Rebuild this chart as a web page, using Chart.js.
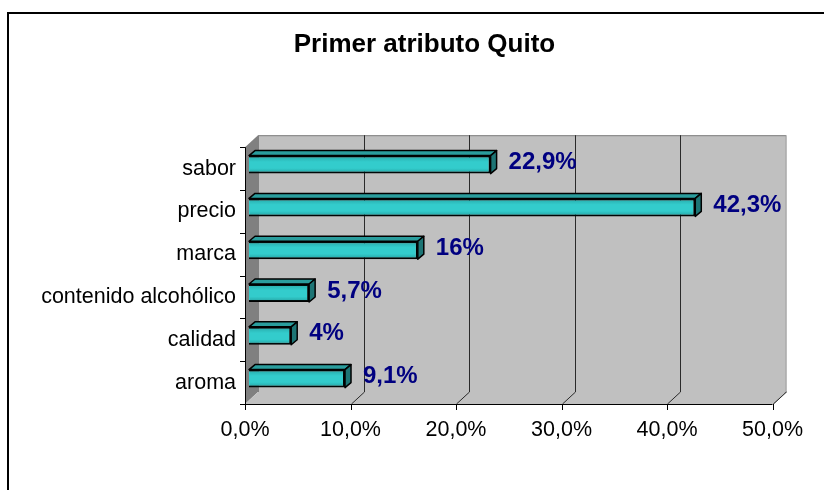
<!DOCTYPE html>
<html>
<head>
<meta charset="utf-8">
<script src="https://cdn.jsdelivr.net/npm/chart.js@4.4.0/dist/chart.umd.min.js"></script>
<style>
    html, body { margin: 0; padding: 0; background: #fff; }
    #wrap { position: relative; width: 824px; height: 490px; overflow: hidden; }
    #frame { position: absolute; left: 7px; top: 12px; width: 900px; height: 600px; border: 2px solid #000; }
    canvas { position: absolute; left: 0; top: 0; }
</style>
</head>
<body>
<div id="wrap">
    <div id="frame"></div>
    <canvas id="chart" width="824" height="490"></canvas>
</div>
<script>
// Primer atributo Quito - 3D style horizontal bars

const categories = ['sabor', 'precio', 'marca', 'contenido alcohólico', 'calidad', 'aroma'];
const values = [22.9, 42.3, 16, 5.7, 4, 9.1];
const valueLabels = ['22,9%', '42,3%', '16%', '5,7%', '4%', '9,1%'];
const xTicks = [0, 10, 20, 30, 40, 50];

const FONT = "'Liberation Sans', Arial, sans-serif";

// depth offsets relative to the plane the bars are drawn in
const FRONT = { dx: -4, dy: 4 };
const BACK = { dx: 9, dy: -8 };
const BAR_DEPTH = { dx: 6, dy: -5 };
const TITLE_SHIFT = 34;

const box3d = {
    id: 'box3d',
    afterLayout(chart) {
        // title sits a bit right of the plot centre
        chart.titleBlock.left += TITLE_SHIFT;
        chart.titleBlock.right += TITLE_SHIFT;
    },
    beforeDatasetsDraw(chart) {
        const ctx = chart.ctx;
        const xs = chart.scales.x;
        const area = chart.chartArea;
        const fx = v => xs.getPixelForValue(v) + FRONT.dx;
        const bx = v => xs.getPixelForValue(v) + BACK.dx;
        const fTop = area.top + FRONT.dy, fBot = area.bottom + FRONT.dy;
        const bTop = area.top + BACK.dy, bBot = area.bottom + BACK.dy;
        const x0f = fx(0), x1f = fx(50), x0b = bx(0), x1b = bx(50);

        ctx.save();
        // back wall
        ctx.fillStyle = '#c0c0c0';
        ctx.fillRect(x0b, bTop, x1b - x0b, bBot - bTop);
        ctx.strokeStyle = '#808080';
        ctx.lineWidth = 1;
        ctx.strokeRect(x0b + 0.5, bTop + 0.5, x1b - x0b, bBot - bTop);

        // left wall
        ctx.fillStyle = '#808080';
        ctx.beginPath();
        ctx.moveTo(x0f, fTop);
        ctx.lineTo(x0b, bTop);
        ctx.lineTo(x0b, bBot);
        ctx.lineTo(x0f, fBot);
        ctx.closePath();
        ctx.fill();

        // floor
        ctx.fillStyle = '#c0c0c0';
        ctx.beginPath();
        ctx.moveTo(x0f, fBot);
        ctx.lineTo(x0b, bBot);
        ctx.lineTo(x1b, bBot);
        ctx.lineTo(x1f, fBot);
        ctx.closePath();
        ctx.fill();
        ctx.strokeStyle = '#808080';
        ctx.beginPath();
        ctx.moveTo(x1b + 0.5, bBot);
        ctx.lineTo(x1f + 0.5, fBot);
        ctx.stroke();

        // grid lines on the back wall and floor
        ctx.strokeStyle = '#2a2a2a';
        xTicks.forEach(v => {
            if (v === 0) return;
            const xb = Math.round(bx(v)) + 0.5;
            if (v < 50) {
                ctx.beginPath();
                ctx.moveTo(xb, bTop);
                ctx.lineTo(xb, bBot);
                ctx.stroke();
            }
            ctx.beginPath();
            ctx.moveTo(xb, bBot);
            ctx.lineTo(Math.round(fx(v)) + 0.5, fBot);
            ctx.stroke();
        });

        // axes
        ctx.strokeStyle = '#000';
        ctx.beginPath();
        ctx.moveTo(Math.round(x0f) + 0.5, fTop);
        ctx.lineTo(Math.round(x0f) + 0.5, fBot + 0.5);
        ctx.lineTo(x1f, fBot + 0.5);
        ctx.stroke();

        // tick marks
        xTicks.forEach(v => {
            const x = Math.round(fx(v)) + 0.5;
            ctx.beginPath();
            ctx.moveTo(x, fBot);
            ctx.lineTo(x, fBot + 6);
            ctx.stroke();
        });
        const slot = (area.bottom - area.top) / categories.length;
        for (let i = 0; i <= categories.length; i++) {
            const y = Math.round(fTop + i * slot) + 0.5;
            ctx.beginPath();
            ctx.moveTo(x0f - 5, y);
            ctx.lineTo(x0f, y);
            ctx.stroke();
        }
        ctx.restore();
    },
    afterDatasetsDraw(chart) {
        const ctx = chart.ctx;
        const meta = chart.getDatasetMeta(0);
        ctx.save();
        meta.data.forEach((bar, i) => {
            const { x, y, base, height } = bar.getProps(['x', 'y', 'base', 'height'], true);
            const top = y - height / 2, bot = y + height / 2;
            const d = BAR_DEPTH;

            // shading on the front face
            const g = ctx.createLinearGradient(0, top, 0, bot);
            g.addColorStop(0, 'rgba(0,60,60,0.25)');
            g.addColorStop(0.35, 'rgba(0,60,60,0)');
            g.addColorStop(0.7, 'rgba(0,60,60,0)');
            g.addColorStop(1, 'rgba(0,60,60,0.3)');
            ctx.fillStyle = g;
            ctx.fillRect(base + 1, top + 1, x - base - 2, height - 2);

            ctx.lineWidth = 1.5;
            ctx.strokeStyle = '#000';
            ctx.lineJoin = 'round';
            // top face
            ctx.fillStyle = '#2a9d9d';
            ctx.beginPath();
            ctx.moveTo(base, top);
            ctx.lineTo(base + d.dx, top + d.dy);
            ctx.lineTo(x + d.dx, top + d.dy);
            ctx.lineTo(x, top);
            ctx.closePath();
            ctx.fill();
            ctx.stroke();
            // side face
            ctx.fillStyle = '#1d7575';
            ctx.beginPath();
            ctx.moveTo(x, top);
            ctx.lineTo(x + d.dx, top + d.dy);
            ctx.lineTo(x + d.dx, bot + d.dy);
            ctx.lineTo(x, bot);
            ctx.closePath();
            ctx.fill();
            ctx.stroke();

            // value label
            ctx.fillStyle = '#000080';
            ctx.font = 'bold 24px ' + FONT;
            ctx.textAlign = 'left';
            ctx.textBaseline = 'middle';
            ctx.fillText(valueLabels[i], x + d.dx + 12, y - 2);
        });
        ctx.restore();
    }
};

new Chart(document.getElementById('chart'), {
    type: 'bar',
    data: {
        labels: categories,
        datasets: [{
            data: values,
            backgroundColor: '#33cccc',
            borderColor: '#000',
            borderWidth: 2,
            barPercentage: 0.42,
            categoryPercentage: 1
        }]
    },
    options: {
        indexAxis: 'y',
        responsive: false,
        animation: false,
        layout: { padding: { left: 0, right: 43, top: 0, bottom: 0 } },
        plugins: {
            legend: { display: false },
            tooltip: { enabled: false },
            title: {
                display: true,
                text: 'Primer atributo Quito',
                color: '#000',
                font: { family: FONT, size: 26, weight: 'bold' },
                padding: { top: 29, bottom: 83 }
            }
        },
        scales: {
            x: {
                min: 0,
                max: 50,
                border: { display: false },
                grid: { display: false, drawTicks: false },
                afterFit: s => { s.height = 90; },
                afterBuildTicks: s => { s.ticks = xTicks.map(v => ({ value: v })); },
                ticks: {
                    color: '#000',
                    font: { family: FONT, size: 21.5 },
                    padding: 17,
                    labelOffset: FRONT.dx,
                    maxRotation: 0,
                    callback: v => v.toFixed(1).replace('.', ',') + '%'
                }
            },
            y: {
                border: { display: false },
                grid: { display: false, drawTicks: false },
                afterFit: s => { s.width = 249; },
                ticks: {
                    color: '#000',
                    font: { family: FONT, size: 21.5 },
                    padding: 13,
                    labelOffset: FRONT.dy
                }
            }
        }
    },
    plugins: [box3d]
});
</script>
</body>
</html>
